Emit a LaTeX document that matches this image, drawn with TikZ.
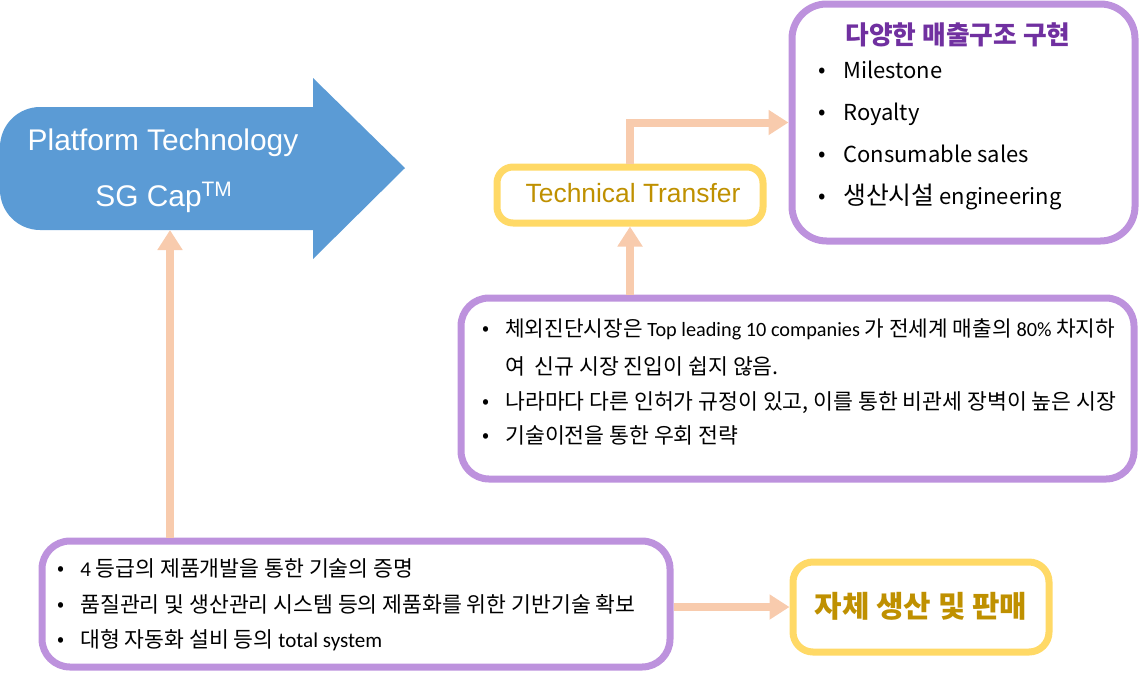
\documentclass[tikz,border=0pt]{standalone}
\usepackage{fontspec}
\setmainfont{Liberation Sans}
\newfontfamily\kr{Noto Sans CJK KR}
\newfontfamily\lat{Carlito}
\usetikzlibrary{arrows.meta}
\definecolor{pborder}{HTML}{BD92DD}
\definecolor{yborder}{HTML}{FFD966}
\definecolor{peach}{HTML}{F8CBAD}
\definecolor{bluefill}{HTML}{5B9BD5}
\definecolor{goldtext}{HTML}{BF9000}
\definecolor{titlepurple}{HTML}{7030A0}
\newcommand{\hk}[1]{{\fontsize{18.6}{20}\selectfont #1}}
\newcommand{\lt}[1]{{\lat\fontsize{15.8}{18}\selectfont #1}}
\newcommand{\ltn}[1]{{\lat\fontsize{15.2}{18}\selectfont #1}}
\tikzset{
  pbox/.style={draw=pborder, line width=5.25pt, rounded corners=21pt, fill=white, inner sep=0pt},
  ybox/.style={draw=yborder, line width=5.25pt, rounded corners=15pt, fill=white, inner sep=0pt},
  conn/.style={draw=peach, line width=6pt, -{Triangle[length=15pt,width=18pt]}},
  ln/.style={anchor=west, inner sep=0pt, text height=0.88em, text depth=0.12em},
  bl/.style={anchor=center, inner sep=0pt},
  fa/.style={font=\kr\fontsize{16.5}{18}\selectfont},
  fb/.style={font=\kr\fontsize{16.2}{18}\selectfont},
  fbn/.style={font=\kr\fontsize{16}{18}\selectfont},
  fbl/.style={font=\kr\fontsize{15.5}{18}\selectfont},
  plattext/.style={white, font=\fontsize{22.4}{26}\selectfont},
}
\begin{document}
\begin{tikzpicture}[x=0.75pt,y=-0.75pt]
\useasboundingbox (0,0) rectangle (1141,672);
% blue platform arrow
\fill[bluefill] (313,78) -- (405,168) -- (313,259) -- (313,230) -- (40,230)
  .. controls (18,230) and (0,212) .. (0,190) -- (0,147)
  .. controls (0,125) and (18,107) .. (40,107) -- (313,107) -- cycle;
\coordinate (platbot) at (170,230);
\node[plattext] (plat1) at (163,143) {Platform Technology};
\node[plattext] (plat2) at (164,197) {SG Cap\textsuperscript{TM}};
% boxes
\node[pbox, minimum width=471pt, minimum height=94.5pt] (B1) at (356,604) {};
\node[ybox, minimum width=192pt, minimum height=67.5pt] (B2) at (921,607) {};
\node[pbox, minimum width=504.75pt, minimum height=135.75pt] (B3) at (797.5,388.5) {};
\node[ybox, minimum width=199.5pt, minimum height=42pt, rounded corners=12pt] (B4) at (630,195) {};
\node[pbox, minimum width=257.25pt, minimum height=177.75pt, rounded corners=26pt] (B5) at (963.5,122.5) {};
% connectors
\draw[conn] (B1.north -| platbot) -- (platbot);
\draw[conn] (B1.east |- B2) -- (B2.west);
\draw[conn] (B3.north -| B4.south) -- (B4.south);
\draw[conn] (B4.north) |- (B5.west);
% B2 text
\node[font=\kr\bfseries\fontsize{22.4}{26}\selectfont, text=goldtext] (t2) at (921,606) {자체 생산 및 판매};
% B4 text
\node[font=\fontsize{19.8}{23}\selectfont, text=goldtext] (t4) at (633,193) {Technical Transfer};
% B5 text
\node[font=\kr\bfseries\fontsize{19.3}{22}\selectfont, text=titlepurple] (t5t) at (958,35) {다양한 매출구조 구현};
\node[bl, fa] (b51) at (822,73) {•};
\node[ln, fa] (t51) at (843,73) {Milestone};
\node[bl, fa] (b52) at (822,115) {•};
\node[ln, fa] (t52) at (843,115) {Royalty};
\node[bl, fa] (b53) at (822,157) {•};
\node[ln, fa] (t53) at (843,157) {Consumable sales};
\node[bl, fa] (b54) at (822,199) {•};
\node[ln, fa] (t54) at (843,199) {\hk{생산시설} engineering};
% B3 text
\node[bl, fbl] (b31) at (486,331) {•};
\node[ln, fbn] (t31) at (505,331) {체외진단시장은 \ltn{Top leading 10 companies} 가 전세계 매출의 \ltn{80\%} 차지하};
\node[ln, fb] (t32) at (505,369) {여\ \ 신규 시장 진입이 쉽지 않음.};
\node[bl, fbl] (b33) at (486,404) {•};
\node[ln, fb] (t33) at (505,404) {나라마다 다른 인허가 규정이 있고, 이를 통한 비관세 장벽이 높은 시장};
\node[bl, fbl] (b34) at (486,438) {•};
\node[ln, fb] (t34) at (505,438) {기술이전을 통한 우회 전략};
% B1 text
\node[bl, fbl] (b11) at (61,571) {•};
\node[ln, fb] (t11) at (80,571) {\lt{4} 등급의 제품개발을 통한 기술의 증명};
\node[bl, fbl] (b12) at (61,607) {•};
\node[ln, fb] (t12) at (80,607) {품질관리 및 생산관리 시스템 등의 제품화를 위한 기반기술 확보};
\node[bl, fbl] (b13) at (61,642) {•};
\node[ln, fb] (t13) at (80,642) {대형 자동화 설비 등의 \lt{total system}};
\end{tikzpicture}
\end{document}
